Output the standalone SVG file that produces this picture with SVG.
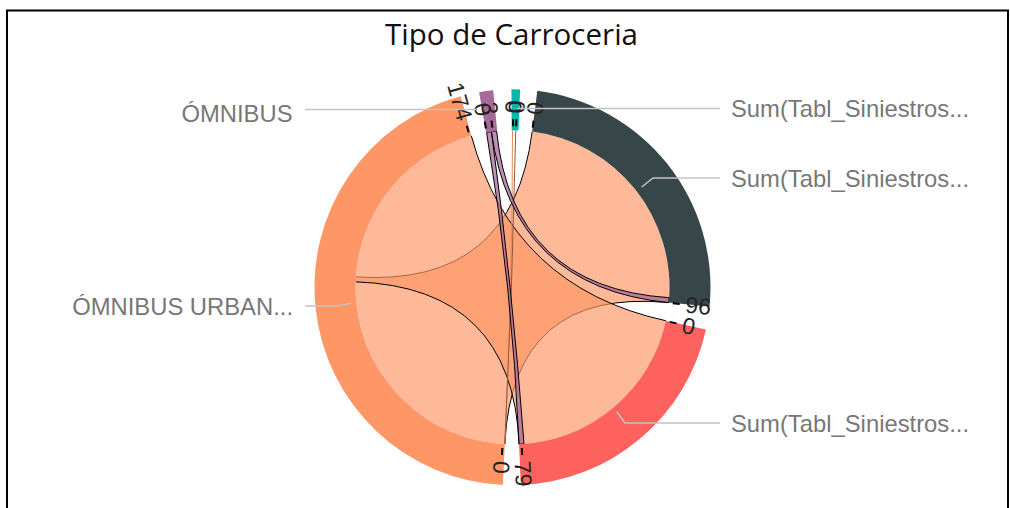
<svg xmlns="http://www.w3.org/2000/svg" width="1010" height="508" viewBox="0 0 1010 508">
<style>
.rib{fill:#FE9666;fill-opacity:0.67;stroke:none}
.edge{fill:none;stroke:#000;stroke-width:1}
.prib{fill:#A66999;fill-opacity:0.75;stroke:#000;stroke-width:1}
.tick{stroke:#000;stroke-width:2}
.tl{font-family:"Liberation Sans",Arial,sans-serif;font-size:23px;fill:#252423}
.lead{fill:none;stroke:#C4C4C4;stroke-width:1.5}
.lab{font-family:"Liberation Sans",Arial,sans-serif;font-size:23.8px;fill:#777}
</style>
<rect x="0" y="0" width="1010" height="508" fill="#fff"/>
<rect x="7" y="10.5" width="1001" height="510" fill="none" stroke="#000" stroke-width="2"/>
<text x="511.5" y="45" text-anchor="middle" font-family="'Open Sans','Noto Sans',sans-serif" font-size="29" fill="#111" textLength="253" lengthAdjust="spacingAndGlyphs">Tipo de Carroceria</text>

<g id="chords" transform="translate(512.5,287.3)">
  <path class="rib" d="M -7.67 156.81 A 157 157 0 0 1 -156.65 -10.41 Q 0 0 19.68 -155.76 A 157 157 0 0 1 156.25 15.32 Q 0 0 -7.67 156.81 Z"/>
  <path class="edge" d="M -156.65 -10.41 Q 0 0 19.68 -155.76"/>
  <path class="edge" d="M 156.25 15.32 Q 0 0 -7.67 156.81"/>
  <path class="rib" d="M -156.90 -5.48 A 157 157 0 0 1 -41.16 -151.51 Q 0 0 153.40 33.45 A 157 157 0 0 1 6.57 156.86 Q 0 0 -156.90 -5.48 Z"/>
  <path class="edge" d="M -41.16 -151.51 Q 0 0 153.40 33.45"/>
  <path class="edge" d="M 6.57 156.86 Q 0 0 -156.90 -5.48"/>
  <path d="M 0 -157 Q 0 0 -7.67 156.81" fill="none" stroke="#E9875A" stroke-width="1"/>
  <path d="M 3.29 -156.97 Q 0 0 -7.67 156.81" fill="none" stroke="#8A5A40" stroke-width="1"/>
  <path class="prib" d="M -25.91 -154.85 A 157 157 0 0 1 -21.04 -155.58 Q 0 0 11.50 156.58 A 157 157 0 0 1 6.57 156.86 Q 0 0 -25.91 -154.85 Z"/>
  <path class="prib" d="M -21.04 -155.58 A 157 157 0 0 1 -15.87 -156.20 Q 0 0 156.65 10.41 A 157 157 0 0 1 156.25 15.32 Q 0 0 -21.04 -155.58 Z"/>
</g>

<g id="node-omnibus-urbano" transform="translate(512.5,287.3)">
  <path fill="#FE9666" d="M -9.67 197.76 A 198 198 0 0 1 -51.91 -191.07 L -41.16 -151.51 A 157 157 0 0 0 -7.67 156.81 Z"/>
</g>
<g id="node-omnibus" transform="translate(512.5,287.3)">
  <path fill="#A66999" d="M -33.36 -195.17 A 198 198 0 0 1 -19.32 -197.05 L -15.32 -156.25 A 157 157 0 0 0 -26.45 -154.76 Z"/>
</g>
<g id="node-sum-teal" transform="translate(512.5,287.3)">
  <path fill="#01B8AA" d="M -1.04 -198.0 A 198 198 0 0 1 7.60 -197.85 L 6.03 -156.88 A 157 157 0 0 0 -0.82 -157.0 Z"/>
</g>
<g id="node-sum-dark" transform="translate(512.5,287.3)">
  <path fill="#374649" d="M 24.82 -196.44 A 198 198 0 0 1 197.05 19.32 L 156.25 15.32 A 157 157 0 0 0 19.68 -155.76 Z"/>
</g>
<g id="node-sum-red" transform="translate(512.5,287.3)">
  <path fill="#FD625E" d="M 193.45 42.18 A 198 198 0 0 1 8.29 197.83 L 6.57 156.86 A 157 157 0 0 0 153.40 33.45 Z"/>
</g>

<g id="ticks" transform="translate(512.5,287.3)">
  <g transform="rotate(93.6)"><line class="tick" x1="161" y1="0" x2="168" y2="0"/><text class="tl" transform="translate(174,0) rotate(180)" dy="0.35em" text-anchor="end">0</text></g>
  <g transform="rotate(254.2)"><line class="tick" x1="161" y1="0" x2="168" y2="0"/><text class="tl" transform="translate(174,0) rotate(180)" dy="0.35em" text-anchor="end">174</text></g>
  <g transform="rotate(260.5)"><line class="tick" x1="161" y1="0" x2="168" y2="0"/><text class="tl" transform="translate(174,0) rotate(180)" dy="0.35em" text-anchor="end">0</text></g>
  <g transform="rotate(262.8)"><line class="tick" x1="161" y1="0" x2="168" y2="0"/><text class="tl" transform="translate(174,0) rotate(180)" dy="0.35em" text-anchor="end">3</text></g>
  <g transform="rotate(-89.8)"><line class="tick" x1="161" y1="0" x2="168" y2="0"/><text class="tl" x="174" dy="0.35em">0</text></g>
  <g transform="rotate(-88.7)"><line class="tick" x1="161" y1="0" x2="168" y2="0"/><text class="tl" x="174" dy="0.35em">0</text></g>
  <g transform="rotate(-82.8)"><line class="tick" x1="161" y1="0" x2="168" y2="0"/><text class="tl" x="174" dy="0.35em">0</text></g>
  <g transform="rotate(5.7)"><line class="tick" x1="161" y1="0" x2="168" y2="0"/><text class="tl" x="174" dy="0.35em">96</text></g>
  <g transform="rotate(12.4)"><line class="tick" x1="161" y1="0" x2="168" y2="0"/><text class="tl" x="174" dy="0.35em">0</text></g>
  <g transform="rotate(86.7)"><line class="tick" x1="161" y1="0" x2="168" y2="0"/><text class="tl" x="174" dy="0.35em">79</text></g>
</g>

<g id="labels">
  <path class="lead" d="M305 109.5 H477"/>
  <path class="lead" d="M305 306 H337 L351 303.3"/>
  <path class="lead" d="M720 108.5 H517"/>
  <path class="lead" d="M720 178 H653 L641.7 187"/>
  <path class="lead" d="M720 423 H625 L616.7 411.7"/>
  <text class="lab" x="292.5" y="121.5" text-anchor="end">ÓMNIBUS</text>
  <text class="lab" x="293" y="315" text-anchor="end">ÓMNIBUS URBAN...</text>
  <text class="lab" x="731" y="116.7">Sum(Tabl_Siniestros...</text>
  <text class="lab" x="731" y="186.7">Sum(Tabl_Siniestros...</text>
  <text class="lab" x="731" y="431.5">Sum(Tabl_Siniestros...</text>
</g>
</svg>
